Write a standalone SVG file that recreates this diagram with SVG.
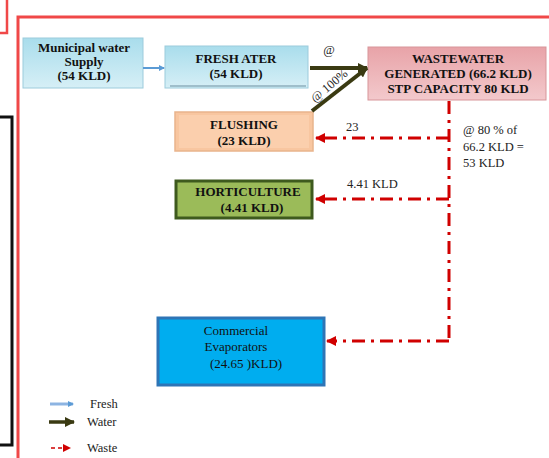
<svg xmlns="http://www.w3.org/2000/svg" width="549" height="458" viewBox="0 0 549 458">
<defs>
<linearGradient id="gBlue" x1="0" y1="0" x2="0" y2="1"><stop offset="0" stop-color="#A9DDEC"/><stop offset="1" stop-color="#D6EFF6"/></linearGradient>
<linearGradient id="gRed" x1="0" y1="0" x2="0" y2="1"><stop offset="0" stop-color="#E8A3A8"/><stop offset="1" stop-color="#F3C9CC"/></linearGradient>
<marker id="mBlue" markerWidth="6" markerHeight="6" refX="5" refY="3" orient="auto" markerUnits="userSpaceOnUse"><path d="M0,0 L6,3 L0,6 z" fill="#5B9BD5"/></marker>
<marker id="mDark" markerWidth="10" markerHeight="10" refX="9" refY="5" orient="auto" markerUnits="userSpaceOnUse"><path d="M0,0 L10,5 L0,10 z" fill="#3A3A12"/></marker>
<marker id="mRed" markerWidth="10" markerHeight="10" refX="9" refY="5" orient="auto" markerUnits="userSpaceOnUse"><path d="M0,0 L10,5 L0,10 z" fill="#D00000"/></marker>
<marker id="mRedR" markerWidth="8" markerHeight="8" refX="7" refY="4" orient="auto" markerUnits="userSpaceOnUse"><path d="M0,0 L8,4 L0,8 z" fill="#D00000"/></marker>
</defs>
<style>
.t{font-family:"Liberation Serif","Times New Roman",serif;font-size:13px;fill:#111;text-anchor:middle}
.b{font-weight:bold}
.l{font-family:"Liberation Serif","Times New Roman",serif;font-size:12.5px;fill:#222}
.waste{stroke:#D00000;stroke-width:3;fill:none;stroke-dasharray:13 6 3 6}
.water{stroke:#3A3A12;stroke-width:4;fill:none}
</style>
<g id="frame" fill="none">
<path d="M0,33 H7 V0" stroke="#F04848" stroke-width="2.5"/>
<path d="M18,458 V17 H549" stroke="#F04848" stroke-width="3"/>
<path d="M0,117 H12 V445 H0" stroke="#111" stroke-width="3"/>
</g>
<g id="municipal">
<rect x="23" y="38" width="120" height="50" fill="url(#gBlue)" stroke="#9CCBDC" stroke-width="1"/>
<text class="t b" x="84" y="52">Municipal water</text>
<text class="t b" x="84" y="66">Supply</text>
<text class="t b" x="84" y="80">(54 KLD)</text>
</g>
<g id="fresh">
<rect x="165" y="46" width="143" height="42" fill="url(#gBlue)" stroke="#9CCBDC" stroke-width="1"/>
<line x1="170" y1="86" x2="306" y2="86" stroke="#6A8FA0" stroke-width="1"/>
<text class="t b" x="236" y="63">FRESH ATER</text>
<text class="t b" x="236" y="78">(54 KLD)</text>
</g>
<g id="wastewater">
<rect x="368" y="47" width="178" height="53" fill="url(#gRed)" stroke="#D7959A" stroke-width="1"/>
<text class="t b" x="458" y="63">WASTEWATER</text>
<text class="t b" x="458" y="78">GENERATED (66.2 KLD)</text>
<text class="t b" x="458" y="93">STP CAPACITY 80 KLD</text>
</g>
<g id="flushing">
<rect x="175" y="112" width="138" height="39" fill="#F8C6A0" stroke="#E9B48C" stroke-width="1.5"/>
<rect x="179" y="115" width="130" height="33" fill="#FBCFAD"/>
<text class="t b" x="244" y="129">FLUSHING</text>
<text class="t b" x="244" y="145">(23 KLD)</text>
</g>
<g id="horticulture">
<rect x="176" y="181" width="136" height="37" fill="#9BBB59" stroke="#3E5A1E" stroke-width="3"/>
<text class="t b" x="248" y="196">HORTICULTURE</text>
<text class="t b" x="252" y="212">(4.41 KLD)</text>
</g>
<g id="evaporators">
<rect x="158" y="318" width="166" height="67" fill="#00ADEF" stroke="#2E75B6" stroke-width="3"/>
<text class="t" x="236" y="335" font-size="13.5">Commercial</text>
<text class="t" x="236" y="351" font-size="13.5">Evaporators</text>
<text class="t" x="246" y="368" font-size="13.5">(24.65 )KLD)</text>
</g>
<g id="connectors">
<line x1="143" y1="68" x2="164" y2="68" stroke="#5B9BD5" stroke-width="2" marker-end="url(#mBlue)"/>
<line x1="310" y1="68" x2="367" y2="68" class="water" marker-end="url(#mDark)"/>
<line x1="312" y1="111" x2="367" y2="68" class="water" marker-end="url(#mDark)"/>
<text class="l" x="329" y="54" text-anchor="middle" font-size="11">@</text>
<text class="l" x="0" y="0" font-size="10" transform="translate(315,103) rotate(-40)">@ 100%</text>
<path class="waste" d="M449,101 V341"/>
<line class="waste" x1="449" y1="138" x2="316" y2="138" marker-end="url(#mRed)"/>
<line class="waste" x1="449" y1="199" x2="316" y2="199" marker-end="url(#mRed)"/>
<line class="waste" x1="449" y1="341" x2="327" y2="341" marker-end="url(#mRed)"/>
<text class="l" x="346" y="131">23</text>
<text class="l" x="347" y="188">4.41 KLD</text>
<text class="l" x="463" y="134">@ 80 % of</text>
<text class="l" x="463" y="151">66.2 KLD =</text>
<text class="l" x="463" y="167">53 KLD</text>
</g>
<g id="legend">
<line x1="50" y1="404" x2="73" y2="404" stroke="#8DB4E2" stroke-width="3" marker-end="url(#mBlue)"/>
<line x1="49" y1="422" x2="74" y2="422" stroke="#3A3A12" stroke-width="3.5" marker-end="url(#mDark)"/>
<line x1="51" y1="448" x2="70" y2="448" stroke="#D00000" stroke-width="1.5" stroke-dasharray="4 3" marker-end="url(#mRedR)"/>
<text class="l" x="90" y="408">Fresh</text>
<text class="l" x="87" y="426">Water</text>
<text class="l" x="87" y="452">Waste</text>
</g>
</svg>
